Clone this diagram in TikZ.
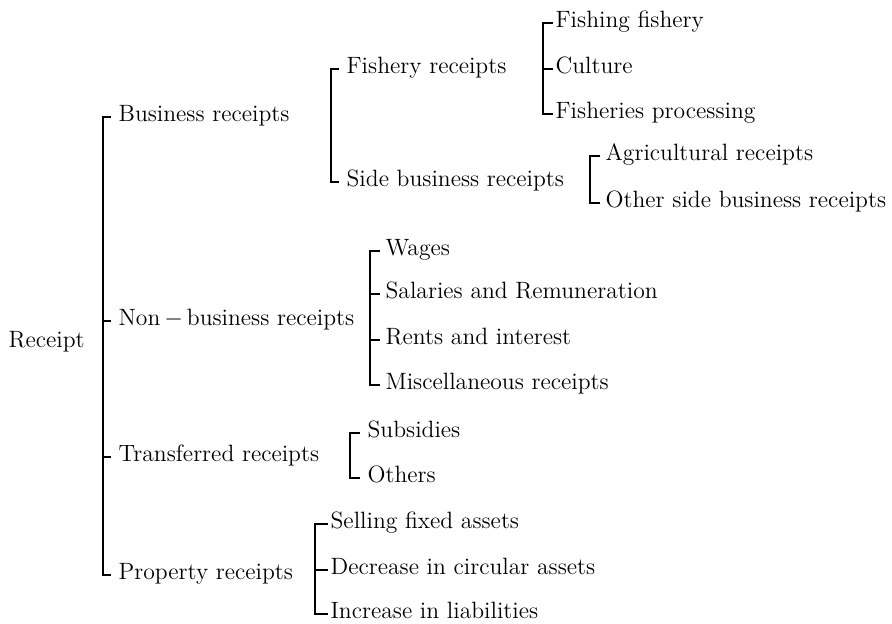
\documentclass[tikz,border=0pt]{standalone}
\begin{document}
\begin{tikzpicture}[x=0.5pt,y=-0.5pt,line width=0.65pt,
	lbl/.style={anchor=west,inner sep=0pt,text height=1.2ex,text depth=.2ex,font=\fontsize{11.8}{14}\selectfont}]
		\useasboundingbox (0,0) rectangle (892,623);
		
		% first level
		\node[lbl] (rec) at (8,343) {Receipt};
		\node[lbl] (busi) at (118,117) {Business receipts};
		\node[lbl] (nonb) at (118,321) {Non\,$-$\,business receipts};
		\node[lbl] (trans) at (118,457) {Transferred receipts};
		\node[lbl] (prop) at (118,575) {Property receipts};
		\draw ([xshift=-3.5pt]busi.west) -- ++(-4pt,0) |- ([xshift=-3.5pt]prop.west);
		\draw ([xshift=-3.5pt]nonb.west) -- ++(-4pt,0);
		\draw ([xshift=-3.5pt]trans.west) -- ++(-4pt,0);
		
		% business receipts
		\node[lbl] (fish) at (346,69) {Fishery receipts};
		\node[lbl] (side) at (346,182) {Side business receipts};
		\draw ([xshift=-3.5pt]fish.west) -- ++(-4pt,0) |- ([xshift=-3.5pt]side.west);
		
		\node[lbl] (fishing) at (555,23) {Fishing fishery};
		\node[lbl] (cult) at (555,69) {Culture};
		\node[lbl] (proc) at (555,114) {Fisheries processing};
		\draw ([xshift=-1pt]fishing.west) -- ++(-5pt,0) |- ([xshift=-1pt]proc.west);
		\draw ([xshift=-1pt]cult.west) -- ++(-5pt,0);
		
		\node[lbl] (agri) at (605,156) {Agricultural receipts};
		\node[lbl] (oside) at (605,203) {Other side business receipts};
		\draw ([xshift=-2.5pt]agri.west) -- ++(-5pt,0) |- ([xshift=-2.5pt]oside.west);
		
		% non-business receipts
		\node[lbl] (wage) at (385,251) {Wages};
		\node[lbl] (sal) at (385,294) {Salaries and Remuneration};
		\node[lbl] (rent) at (385,340) {Rents and interest};
		\node[lbl] (misc) at (385,385) {Miscellaneous receipts};
		\draw ([xshift=-2.5pt]wage.west) -- ++(-5pt,0) |- ([xshift=-2.5pt]misc.west);
		\draw ([xshift=-2.5pt]sal.west) -- ++(-5pt,0);
		\draw ([xshift=-2.5pt]rent.west) -- ++(-5pt,0);
		
		% transferred receipts
		\node[lbl] (subs) at (367,433) {Subsidies};
		\node[lbl] (oth) at (367,478) {Others};
		\draw ([xshift=-3.5pt]subs.west) -- ++(-5pt,0) |- ([xshift=-3.5pt]oth.west);
		
		% property receipts
		\node[lbl] (sell) at (330,524) {Selling fixed assets};
		\node[lbl] (decr) at (330,570) {Decrease in circular assets};
		\node[lbl] (incr) at (330,614) {Increase in liabilities};
		\draw ([xshift=-1pt]sell.west) -- ++(-6.5pt,0) |- ([xshift=-1pt]incr.west);
		\draw ([xshift=-1pt]decr.west) -- ++(-6.5pt,0);
		\end{tikzpicture}
\end{document}
